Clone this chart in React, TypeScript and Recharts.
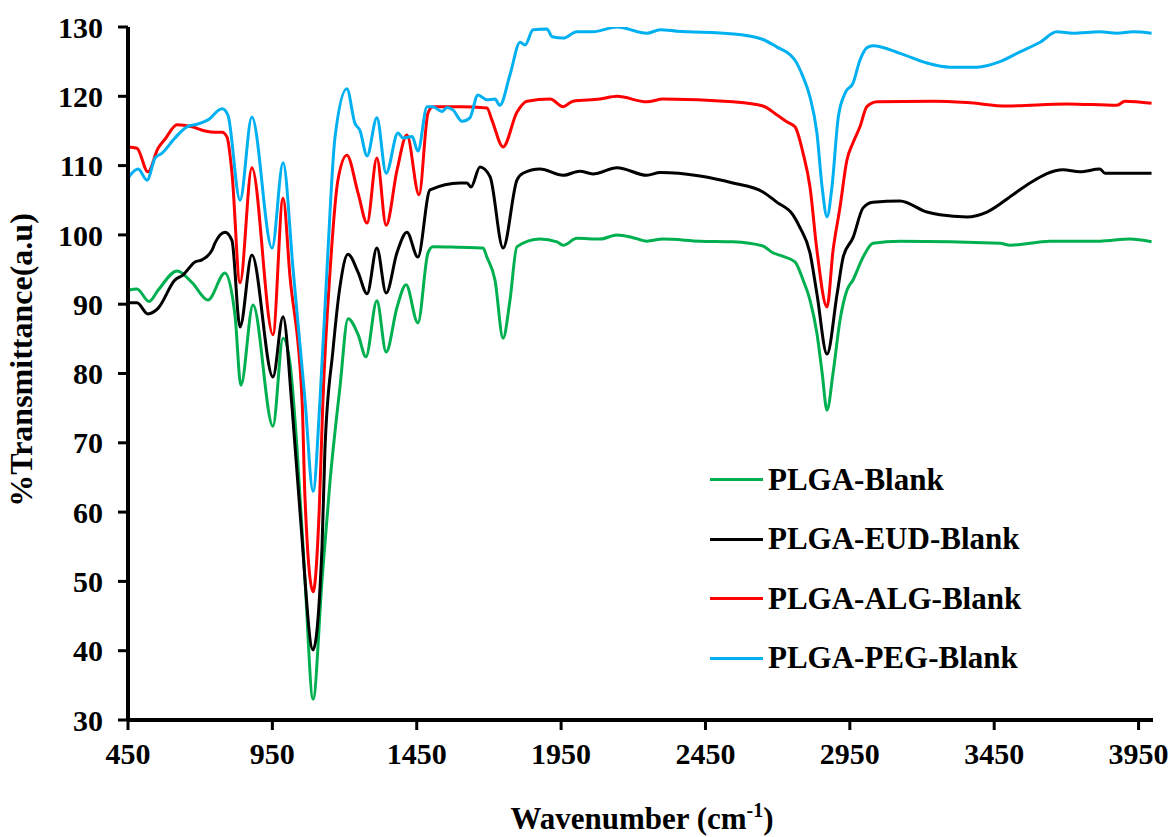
import { LineChart, Line, XAxis, YAxis } from "recharts";

// wavenumber (cm-1), % transmittance pairs
const plgaBlank = [
  [450, 92.0], [481, 92.2], [523, 90.4], [554, 92.0], [620, 94.8], [672, 93.1],
  [727, 90.6], [786, 94.5], [821, 88.2], [841, 78.3], [883, 89.9], [952, 72.4],
  [987, 85.1], [1011, 81.5], [1035, 69.4], [1063, 50.2], [1091, 33.0], [1122, 50.2],
  [1150, 64.6], [1184, 78.0], [1212, 87.9], [1247, 85.6], [1274, 82.4], [1312, 90.5],
  [1344, 83.1], [1382, 89.6], [1413, 92.8], [1454, 87.3], [1489, 97.4], [1506, 98.3],
  [1600, 98.2], [1680, 98.1], [1693, 96.8], [1721, 93.5], [1749, 85.1], [1773, 90.6],
  [1797, 98.3], [1877, 99.4], [1936, 99.0], [1957, 98.5], [2005, 99.5], [2085, 99.4],
  [2144, 100.0], [2199, 99.6], [2247, 99.1], [2303, 99.4], [2431, 99.1], [2545, 99.0],
  [2649, 98.4], [2680, 97.5], [2719, 96.9], [2760, 96.1], [2788, 93.5], [2812, 90.6],
  [2836, 85.8], [2854, 80.1], [2871, 74.7], [2892, 80.1], [2916, 87.7], [2940, 92.0],
  [2961, 93.5], [2996, 96.8], [3030, 98.8], [3124, 99.1], [3470, 98.8], [3505, 98.5],
  [3643, 99.1], [3816, 99.1], [3920, 99.4], [3995, 99.0],
];

const plgaEudBlank = [
  [450, 90.2], [481, 90.2], [519, 88.6], [554, 89.4], [613, 93.5], [640, 94.2],
  [682, 96.1], [706, 96.4], [741, 97.8], [751, 98.8], [786, 100.4], [810, 99.2],
  [838, 86.7], [879, 97.1], [952, 79.5], [987, 88.2], [1018, 75.2], [1046, 59.9],
  [1091, 40.1], [1122, 55.0], [1132, 69.0], [1160, 83.4], [1184, 92.5], [1212, 97.2],
  [1247, 94.6], [1278, 91.5], [1312, 98.1], [1344, 91.6], [1382, 97.5], [1416, 100.4],
  [1454, 96.8], [1496, 106.5], [1600, 107.5], [1624, 107.5], [1638, 106.9], [1669, 109.8],
  [1704, 108.4], [1749, 98.1], [1797, 107.9], [1818, 108.9], [1877, 109.5], [1957, 108.6],
  [2015, 109.2], [2060, 108.8], [2144, 109.7], [2247, 108.6], [2293, 109.0], [2431, 108.5],
  [2545, 107.5], [2649, 106.2], [2698, 104.7], [2753, 102.9], [2777, 101.1], [2812, 97.4],
  [2836, 91.5], [2871, 82.8], [2906, 91.5], [2927, 96.8], [2961, 99.6], [2996, 103.9],
  [3030, 104.7], [3124, 104.9], [3217, 103.3], [3262, 102.9], [3356, 102.6], [3425, 103.3],
  [3515, 105.8], [3574, 107.5], [3688, 109.4], [3747, 109.1], [3816, 109.5], [3834, 108.9],
  [3995, 108.9],
];

const plgaAlgBlank = [
  [450, 112.7], [481, 112.5], [519, 109.1], [554, 112.5], [578, 113.8], [620, 115.9],
  [672, 115.6], [717, 115.0], [751, 114.8], [776, 114.8], [793, 114.1], [810, 109.0],
  [838, 93.1], [879, 109.7], [952, 85.6], [987, 105.3], [1011, 94.0], [1053, 76.0],
  [1063, 62.0], [1091, 48.5], [1112, 60.0], [1125, 76.0], [1150, 94.9], [1177, 107.9],
  [1208, 111.5], [1247, 106.0], [1278, 101.7], [1312, 111.1], [1344, 101.4], [1382, 109.4],
  [1416, 114.4], [1458, 105.8], [1489, 117.6], [1506, 118.5], [1600, 118.5], [1693, 118.3],
  [1711, 116.5], [1749, 112.7], [1797, 117.7], [1832, 119.3], [1912, 119.6], [1957, 118.5],
  [1991, 119.3], [2085, 119.6], [2144, 120.0], [2247, 119.2], [2303, 119.6], [2545, 119.2],
  [2649, 118.6], [2698, 117.3], [2733, 116.3], [2760, 115.6], [2788, 111.8], [2812, 106.9],
  [2836, 97.8], [2871, 89.6], [2892, 97.8], [2916, 104.0], [2940, 110.8], [2961, 113.3],
  [2985, 115.6], [3009, 118.5], [3044, 119.2], [3238, 119.3], [3356, 119.1], [3494, 118.6],
  [3702, 118.9], [3875, 118.7], [3903, 119.3], [3995, 119.0],
];

const plgaPegBlank = [
  [450, 108.2], [485, 109.5], [516, 107.9], [544, 111.1], [568, 111.8], [613, 114.0],
  [654, 115.6], [692, 116.0], [727, 116.6], [776, 118.2], [796, 117.3], [838, 105.0],
  [879, 117.0], [949, 98.1], [987, 110.4], [1022, 94.9], [1063, 76.2], [1091, 63.0],
  [1115, 76.2], [1139, 94.9], [1167, 114.1], [1208, 121.1], [1236, 116.1], [1253, 115.1],
  [1278, 111.4], [1312, 116.9], [1344, 108.9], [1385, 114.7], [1402, 114.0], [1434, 114.2],
  [1454, 112.1], [1486, 118.5], [1506, 118.5], [1537, 117.8], [1555, 118.4], [1576, 118.0],
  [1607, 116.4], [1634, 116.9], [1662, 120.2], [1693, 119.5], [1721, 119.6], [1738, 118.7],
  [1773, 123.1], [1808, 127.8], [1825, 127.4], [1853, 129.6], [1901, 129.7], [1919, 128.6],
  [1957, 128.4], [2005, 129.3], [2060, 129.3], [2144, 130.0], [2247, 129.1], [2293, 129.6],
  [2351, 129.4], [2545, 129.0], [2649, 128.2], [2698, 127.1], [2743, 126.0], [2760, 125.2],
  [2788, 122.8], [2812, 119.9], [2836, 114.7], [2854, 106.9], [2871, 102.6], [2888, 106.9],
  [2910, 117.0], [2934, 120.5], [2961, 121.9], [2985, 125.2], [3009, 127.0], [3030, 127.3],
  [3124, 126.2], [3217, 124.8], [3297, 124.2], [3390, 124.2], [3470, 125.0], [3539, 126.4],
  [3609, 127.8], [3667, 129.3], [3723, 129.1], [3816, 129.3], [3875, 129.1], [3931, 129.3],
  [3995, 129.1],
];

const wnTicks = [450, 950, 1450, 1950, 2450, 2950, 3450, 3950];
const tTicks = [30, 40, 50, 60, 70, 80, 90, 100, 110, 120, 130];

const series = [
  { name: "PLGA-Blank", color: "#00B050", pts: plgaBlank },
  { name: "PLGA-EUD-Blank", color: "#000000", pts: plgaEudBlank },
  { name: "PLGA-ALG-Blank", color: "#FF0000", pts: plgaAlgBlank },
  { name: "PLGA-PEG-Blank", color: "#00B0F0", pts: plgaPegBlank },
];

const font = "'Liberation Serif', 'Times New Roman', serif";

const YTitle = () => (
  <text
    x={21}
    y={360}
    transform="rotate(-90 21 360)"
    textAnchor="middle"
    dominantBaseline="central"
    fontFamily={font}
    fontWeight="bold"
    fontSize={32}
    fill="#000"
  >
    %Transmittance(a.u)
  </text>
);

const XTitle = () => (
  <text x={642} y={829} textAnchor="middle" fontFamily={font} fontWeight="bold" fontSize={31} fill="#000">
    Wavenumber (cm
    <tspan fontSize={20} dy={-12}>-1</tspan>
    <tspan dy={12}>)</tspan>
  </text>
);

export default function App() {
  return (
    <div style={{ position: "absolute", left: 0, top: 0, width: 1173, height: 837, background: "#fff" }}>
      <LineChart width={1173} height={837} margin={{ top: 27, right: 20, bottom: 0, left: 0 }}>
        <XAxis
          dataKey="wn"
          type="number"
          domain={[450, 4000]}
          ticks={wnTicks}
          allowDataOverflow
          height={117}
          axisLine={{ stroke: "#000", strokeWidth: 4 }}
          tickLine={{ stroke: "#000", strokeWidth: 3 }}
          tickSize={10}
          tickMargin={13}
          tick={{ fill: "#000", fontFamily: font, fontWeight: "bold", fontSize: 30 }}
          label={<XTitle />}
        />
        <YAxis
          dataKey="t"
          type="number"
          domain={[30, 130]}
          ticks={tTicks}
          allowDataOverflow
          width={128}
          axisLine={{ stroke: "#000", strokeWidth: 4 }}
          tickLine={{ stroke: "#000", strokeWidth: 3 }}
          tickSize={10}
          tickMargin={15}
          tick={{ fill: "#000", fontFamily: font, fontWeight: "bold", fontSize: 30 }}
          label={<YTitle />}
        />
        {series.map((s) => (
          <Line
            key={s.name}
            name={s.name}
            data={s.pts.map(([wn, t]) => ({ wn, t }))}
            dataKey="t"
            type="monotone"
            stroke={s.color}
            strokeWidth={3}
            dot={false}
            activeDot={false}
            isAnimationActive={false}
          />
        ))}
      </LineChart>
      <div style={{ position: "absolute", left: 710, top: 450, fontFamily: font, fontWeight: "bold", fontSize: 31 }}>
        {series.map((s) => (
          <div key={s.name} style={{ display: "flex", alignItems: "center", height: 59.5 }}>
            <div style={{ width: 53, height: 3, background: s.color, marginRight: 5 }} />
            <span>{s.name}</span>
          </div>
        ))}
      </div>
    </div>
  );
}
